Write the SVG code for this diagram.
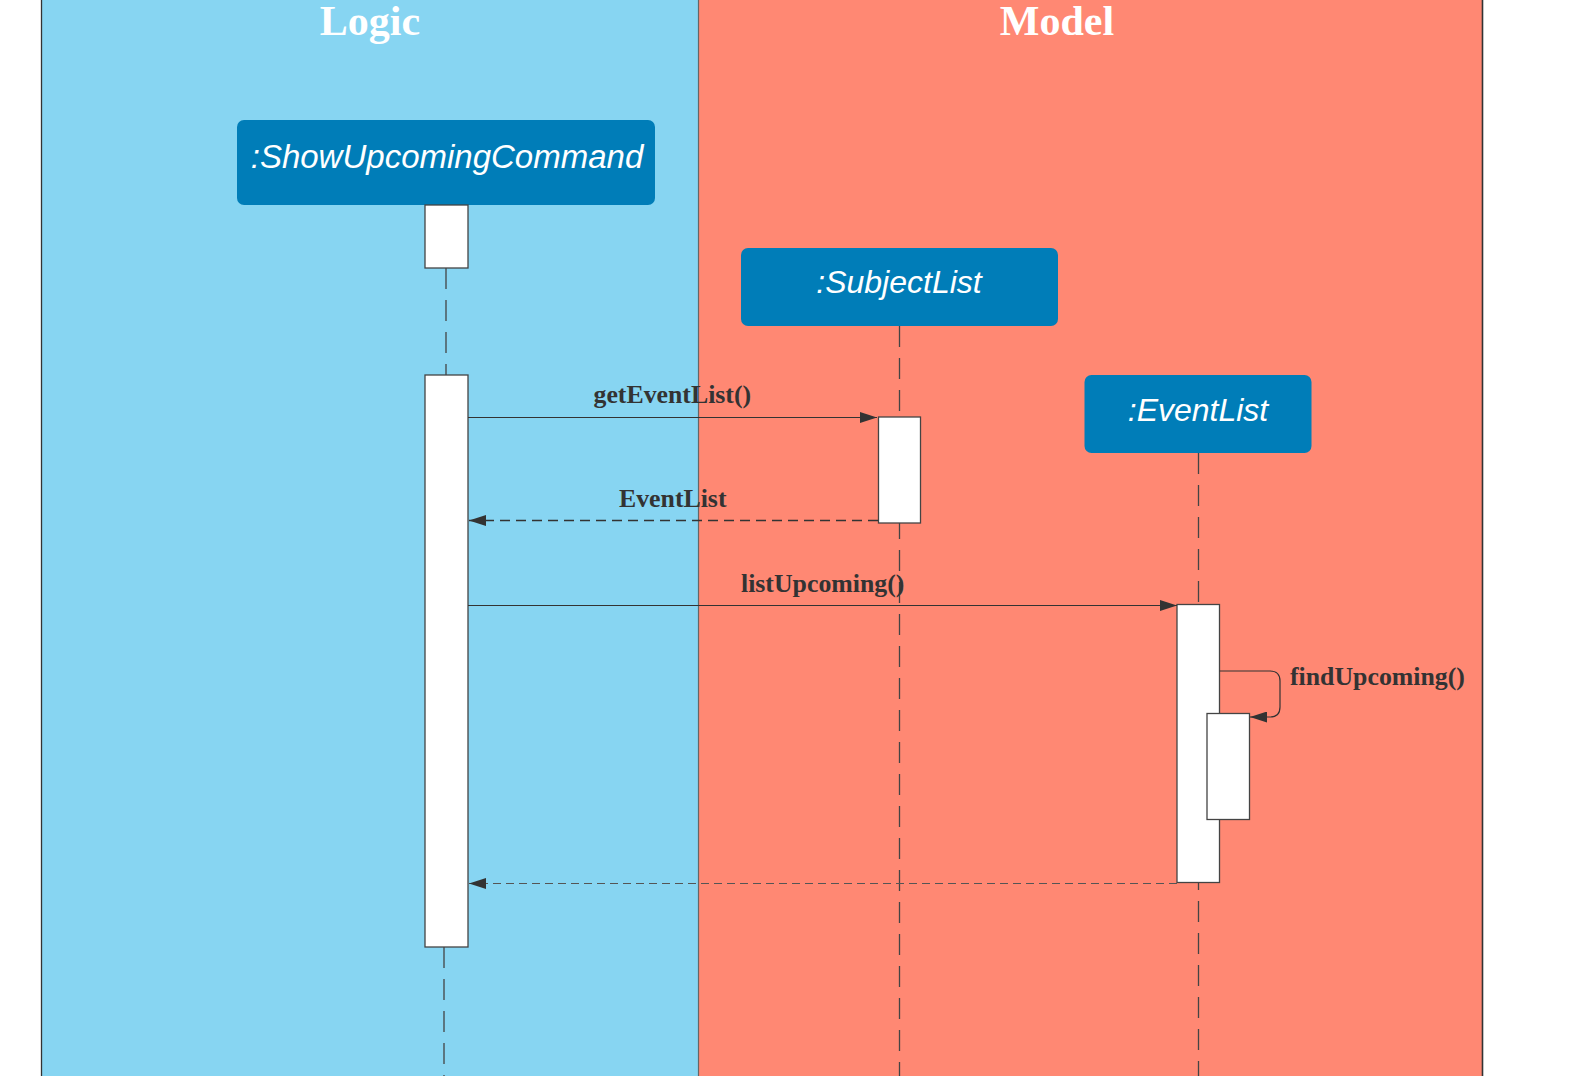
<svg xmlns="http://www.w3.org/2000/svg" width="1585" height="1076" viewBox="0 0 1585 1076">
<style>
.lane-title{font-family:"Liberation Serif","Times New Roman",serif;font-weight:bold;font-size:42px;fill:#ffffff;text-anchor:middle}
.obj{fill:#007DB8}
.obj-text{font-family:"Liberation Sans",Arial,sans-serif;font-style:italic;font-size:32px;fill:#ffffff;text-anchor:middle}
.act{fill:#ffffff;stroke:#444444;stroke-width:1.3}
.life{fill:none;stroke:#444444;stroke-width:1.3;stroke-dasharray:21 11}
.msg{fill:none;stroke:#333333;stroke-width:1.2}
.ret{fill:none;stroke:#333333;stroke-width:1.5;stroke-dasharray:10 6}
.ret2{fill:none;stroke:#555555;stroke-width:1.2;stroke-dasharray:8 5}
.label{font-family:"Liberation Serif","Times New Roman",serif;font-weight:bold;font-size:25.8px;fill:#333333}
</style>
<defs>
<marker id="arrow" viewBox="0 0 17 11" refX="17" refY="5.5" markerWidth="17" markerHeight="11" markerUnits="userSpaceOnUse" orient="auto">
<path d="M0,0 L17,5.5 L0,11 Z" fill="#333333"/>
</marker>
</defs>
<g id="lanes">
<rect x="41.5" y="0" width="657" height="1076" fill="#87D5F2"/>
<rect x="698.5" y="0" width="783.5" height="1076" fill="#FF8873"/>
<line x1="41.5" y1="0" x2="41.5" y2="1076" stroke="#333333" stroke-width="1.3"/>
<line x1="698.5" y1="0" x2="698.5" y2="1076" stroke="#666666" stroke-width="1.2"/>
<line x1="1482.5" y1="0" x2="1482.5" y2="1076" stroke="#333333" stroke-width="1.6"/>
<text class="lane-title" x="370" y="35">Logic</text>
<text class="lane-title" x="1057" y="35">Model</text>
</g>
<g id="lifelines">
<line class="life" x1="446" y1="268" x2="446" y2="375"/>
<line class="life" x1="444" y1="947" x2="444" y2="1076"/>
<line class="life" x1="899.5" y1="326" x2="899.5" y2="1076" stroke="#222222"/>
<line class="life" x1="1198.5" y1="453" x2="1198.5" y2="1076" stroke="#666666" stroke-width="1.1"/>
</g>
<g id="node-showupcomingcommand">
<rect class="obj" x="237" y="120" width="418" height="85" rx="7"/>
<text class="obj-text" x="447" y="168" style="font-size:33px">:ShowUpcomingCommand</text>
<rect class="act" x="425" y="205" width="43" height="63"/>
<rect class="act" x="425" y="375" width="43" height="572"/>
</g>
<g id="node-subjectlist">
<rect class="obj" x="741" y="248" width="317" height="78" rx="7"/>
<text class="obj-text" x="899" y="293">:SubjectList</text>
<rect class="act" x="878.5" y="417" width="42" height="106"/>
</g>
<g id="node-eventlist">
<rect class="obj" x="1084.5" y="375" width="227" height="78" rx="7"/>
<text class="obj-text" x="1198" y="421">:EventList</text>
<rect class="act" x="1177" y="604.5" width="42.5" height="278"/>
<rect class="act" x="1207" y="713.5" width="42.5" height="106"/>
</g>
<g id="connectors">
<line class="msg" x1="468" y1="417.5" x2="877" y2="417.5" marker-end="url(#arrow)"/>
<text class="label" x="593.5" y="403">getEventList()</text>
<line class="ret" x1="878" y1="520.5" x2="469" y2="520.5" marker-end="url(#arrow)"/>
<text class="label" x="619" y="506.5">EventList</text>
<line class="msg" x1="468" y1="605.5" x2="1177" y2="605.5" marker-end="url(#arrow)"/>
<text class="label" x="741" y="592">listUpcoming()</text>
<path class="msg" d="M1219.5,671 H1270 Q1280,671 1280,681 V707 Q1280,717 1270,717 H1250" marker-end="url(#arrow)"/>
<text class="label" x="1290" y="685">findUpcoming()</text>
<line class="ret2" x1="1177" y1="883.5" x2="469" y2="883.5" marker-end="url(#arrow)"/>
</g>
</svg>
